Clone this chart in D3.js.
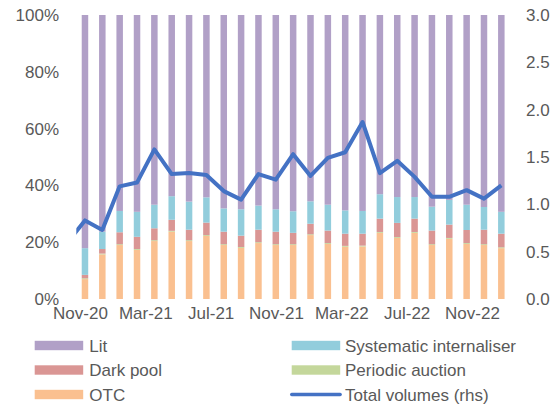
<!DOCTYPE html>
<html>
<head>
<meta charset="utf-8">
<script src="https://cdn.jsdelivr.net/npm/d3@7"></script>
<style>
  html, body { margin: 0; padding: 0; background: #ffffff; }
  svg { display: block; font-family: "Liberation Sans", Arial, sans-serif; }
  .axis text { fill: #595959; font-size: 17px; }
  .legend text { fill: #595959; font-size: 17px; }
</style>
</head>
<body>
<svg id="chart" width="556" height="409"></svg>
<script>
// Monthly trading venue shares (% of volume) and total volumes (rhs)
const months = ["Nov-20","Dec-20","Jan-21","Feb-21","Mar-21","Apr-21","May-21","Jun-21","Jul-21",
  "Aug-21","Sep-21","Oct-21","Nov-21","Dec-21","Jan-22","Feb-22","Mar-22","Apr-22","May-22",
  "Jun-22","Jul-22","Aug-22","Sep-22","Oct-22","Nov-22"];

const otc = [7.0, 15.7, 19.0, 17.3, 20.4, 23.7, 20.4, 22.2, 19.0, 18.0, 19.7, 19.0, 19.0,
  22.5, 19.4, 18.4, 18.5, 23.3, 21.5, 23.3, 19.0, 21.2, 19.4, 19.0, 17.9];
const periodicAuction = [0.3, 0.3, 0.3, 0.3, 0.3, 0.3, 0.3, 0.3, 0.3, 0.3, 0.3, 0.3, 0.3,
  0.3, 0.3, 0.3, 0.3, 0.3, 0.3, 0.3, 0.3, 0.3, 0.3, 0.3, 0.3];
const darkPool = [1.2, 1.6, 4.2, 4.3, 4.2, 3.9, 3.7, 4.4, 4.4, 4.0, 4.4, 4.4, 4.0,
  3.7, 4.4, 4.3, 4.2, 4.7, 5.0, 4.7, 4.8, 4.7, 4.6, 5.1, 4.8];
const systematicInternaliser = [9.4, 6.1, 7.5, 8.8, 8.3, 8.3, 9.9, 8.9, 8.2, 9.3, 8.5, 7.9, 7.6,
  7.9, 9.1, 8.2, 8.0, 8.6, 9.1, 7.6, 8.4, 8.7, 8.9, 8.0, 7.7];
const lit = [82.1, 76.3, 69.0, 69.3, 66.8, 63.8, 65.7, 64.2, 68.1, 68.4, 67.1, 68.4, 69.1,
  65.6, 66.8, 68.8, 69.0, 63.1, 64.1, 64.1, 67.5, 65.1, 66.8, 67.6, 69.3];

// Total volumes series starts one month earlier; its first segment runs off the plot edge
const lineMonths = ["Oct-20"].concat(months);
const totalVolumes = [0.60, 0.83, 0.73, 1.19, 1.23, 1.58, 1.32, 1.33, 1.31, 1.14, 1.05, 1.32, 1.26,
  1.53, 1.30, 1.49, 1.55, 1.87, 1.33, 1.46, 1.29, 1.08, 1.08, 1.15, 1.06, 1.20];

const xTickLabels = ["Nov-20","Mar-21","Jul-21","Nov-21","Mar-22","Jul-22","Nov-22"];
const leftTicks = [0, 20, 40, 60, 80, 100];
const rightTicks = [0, 0.5, 1.0, 1.5, 2.0, 2.5, 3.0];

const seriesNames = ["OTC", "Periodic auction", "Dark pool", "Systematic internaliser", "Lit"];
const seriesValues = [otc, periodicAuction, darkPool, systematicInternaliser, lit];
const colors = {
  "Lit": "#b1a0c7",
  "Systematic internaliser": "#92cddc",
  "Dark pool": "#da9694",
  "Periodic auction": "#c4d79b",
  "OTC": "#fac090",
  "Total volumes (rhs)": "#4472c4"
};

const svg = d3.select("#chart");
const plot = { left: 76.3, right: 510, top: 15, bottom: 299 };
const step = (plot.right - plot.left) / months.length;
const barWidth = 6.5;

const x = d3.scaleBand().domain(lineMonths).range([plot.left - step, plot.right]).padding(0);
const y = d3.scaleLinear().domain([0, 100]).range([plot.bottom, plot.top]);
const y2 = d3.scaleLinear().domain([0, 3]).range([plot.bottom, plot.top]);
const xLabels = d3.scalePoint().domain(xTickLabels).range([80, 472]);

// Stacked share table
const table = months.map((m, i) => {
  const row = { month: m };
  seriesNames.forEach((s, k) => { row[s] = seriesValues[k][i]; });
  return row;
});
const stacked = d3.stack().keys(seriesNames)(table);

svg.append("g")
  .selectAll("g")
  .data(stacked)
  .join("g")
  .attr("fill", d => colors[d.key])
  .selectAll("rect")
  .data(d => d)
  .join("rect")
  .attr("x", d => x(d.data.month) + step / 2 - barWidth / 2)
  .attr("width", barWidth)
  .attr("y", d => y(d[1]))
  .attr("height", d => Math.max(0, y(d[0]) - y(d[1])));

// Total volumes line, clipped to the plot area
svg.append("clipPath").attr("id", "plotClip")
  .append("rect")
  .attr("x", plot.left).attr("y", 0)
  .attr("width", plot.right - plot.left).attr("height", 409);

const line = d3.line()
  .x((d, i) => x(lineMonths[i]) + step / 2)
  .y(d => y2(d));

svg.append("path")
  .datum(totalVolumes)
  .attr("clip-path", "url(#plotClip)")
  .attr("fill", "none")
  .attr("stroke", colors["Total volumes (rhs)"])
  .attr("stroke-width", 4)
  .attr("stroke-linejoin", "round")
  .attr("d", line);

// Axes
const leftAxis = svg.append("g")
  .attr("class", "axis")
  .attr("transform", "translate(59,0)")
  .call(d3.axisLeft(y).tickValues(leftTicks).tickSize(0).tickPadding(0).tickFormat(d => d + "%"));
leftAxis.select(".domain").remove();

const rightAxis = svg.append("g")
  .attr("class", "axis")
  .attr("transform", "translate(526,0)")
  .call(d3.axisRight(y2).tickValues(rightTicks).tickSize(0).tickPadding(0).tickFormat(d3.format(".1f")));
rightAxis.select(".domain").remove();

const bottomAxis = svg.append("g")
  .attr("class", "axis")
  .attr("transform", "translate(0,307)")
  .call(d3.axisBottom(xLabels).tickSize(0).tickPadding(0));
bottomAxis.select(".domain").remove();
bottomAxis.selectAll("text").attr("dy", "0.71em");

// Legend
const legendItems = [
  { name: "Lit", col: 0, row: 0, type: "bar" },
  { name: "Systematic internaliser", col: 1, row: 0, type: "bar" },
  { name: "Dark pool", col: 0, row: 1, type: "bar" },
  { name: "Periodic auction", col: 1, row: 1, type: "bar" },
  { name: "OTC", col: 0, row: 2, type: "bar" },
  { name: "Total volumes (rhs)", col: 1, row: 2, type: "line" }
];
const colX = [34.7, 291.7];
const rowY = [345.5, 370, 394.5];
const swatchW = 48.5;

const legend = svg.append("g").attr("class", "legend");
const item = legend.selectAll("g")
  .data(legendItems)
  .join("g")
  .attr("transform", d => `translate(${colX[d.col]},${rowY[d.row]})`);

item.filter(d => d.type === "bar").append("rect")
  .attr("x", 0).attr("y", -4.7)
  .attr("width", swatchW).attr("height", 9.4)
  .attr("fill", d => colors[d.name]);

item.filter(d => d.type === "line").append("line")
  .attr("x1", 0).attr("x2", swatchW)
  .attr("y1", 0).attr("y2", 0)
  .attr("stroke", d => colors[d.name])
  .attr("stroke-width", 3.3)
  .attr("stroke-linecap", "round");

item.append("text")
  .attr("x", d => d.col === 0 ? 54.6 : 53.3)
  .attr("y", 0)
  .attr("dy", "0.36em")
  .text(d => d.name);
</script>
</body>
</html>
